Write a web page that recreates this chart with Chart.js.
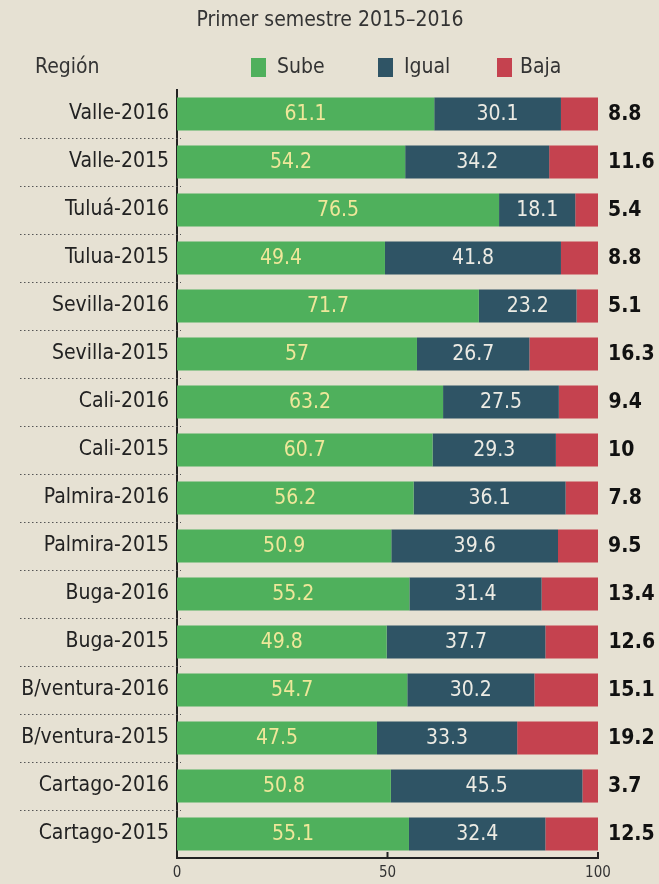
<!DOCTYPE html>
<html>
<head>
<meta charset="utf-8">
<script src="https://cdn.jsdelivr.net/npm/chart.js@4.4.0/dist/chart.umd.min.js"></script>
<style>
  html, body { margin: 0; padding: 0; background: #e6e1d3; }
  #wrap { width: 659px; height: 884px; position: relative; }
</style>
</head>
<body>
<div id="wrap"><canvas id="chart" width="659" height="884"></canvas></div>
<script>
// data, top row first
const regions = ['Valle-2016', 'Valle-2015', 'Tuluá-2016', 'Tulua-2015', 'Sevilla-2016', 'Sevilla-2015',
    'Cali-2016', 'Cali-2015', 'Palmira-2016', 'Palmira-2015', 'Buga-2016', 'Buga-2015',
    'B/ventura-2016', 'B/ventura-2015', 'Cartago-2016', 'Cartago-2015'];
const sube = [61.1, 54.2, 76.5, 49.4, 71.7, 57, 63.2, 60.7, 56.2, 50.9, 55.2, 49.8, 54.7, 47.5, 50.8, 55.1];
const igual = [30.1, 34.2, 18.1, 41.8, 23.2, 26.7, 27.5, 29.3, 36.1, 39.6, 31.4, 37.7, 30.2, 33.3, 45.5, 32.4];
const baja = [8.8, 11.6, 5.4, 8.8, 5.1, 16.3, 9.4, 10, 7.8, 9.5, 13.4, 12.6, 15.1, 19.2, 3.7, 12.5];
const xTicks = [0, 50, 100];

const FONT = "'Liberation Sans Narrow', 'DejaVu Sans Condensed', sans-serif";
const colors = { sube: '#4fb05c', igual: '#2f5465', baja: '#c5424f', ink: '#2a2a2a' };

// title, legend, separators, value labels
const decorPlugin = {
    id: 'decor',
    beforeDraw(chart) {
        const ctx = chart.ctx;
        ctx.save();
        ctx.fillStyle = '#e6e1d3';
        ctx.fillRect(0, 0, chart.width, chart.height);
        ctx.restore();
    },
    afterDraw(chart) {
        const ctx = chart.ctx;
        const area = chart.chartArea;
        const yScale = chart.scales.y;
        const xScale = chart.scales.x;
        ctx.save();

        // title
        ctx.fillStyle = '#333';
        ctx.font = `21px ${FONT}`;
        ctx.textAlign = 'center';
        ctx.textBaseline = 'middle';
        ctx.fillText('Primer semestre 2015–2016', 330, 21);

        // header + legend
        ctx.textAlign = 'left';
        ctx.font = `21px ${FONT}`;
        ctx.fillText('Región', 35, 68);
        const legend = [['Sube', colors.sube, 251, 277], ['Igual', colors.igual, 378, 404], ['Baja', colors.baja, 497, 520]];
        legend.forEach(([txt, col, bx, tx]) => {
            ctx.fillStyle = col;
            ctx.fillRect(bx, 58, 15, 19);
            ctx.fillStyle = '#333';
            ctx.fillText(txt, tx, 68);
        });

        // dotted separators between rows
        ctx.strokeStyle = '#555';
        ctx.lineWidth = 1;
        ctx.setLineDash([1.5, 2.5]);
        for (let i = 0; i < regions.length - 1; i++) {
            const y = Math.round((yScale.getPixelForValue(i) + yScale.getPixelForValue(i + 1)) / 2) + 0.5;
            ctx.beginPath();
            ctx.moveTo(20, y);
            ctx.lineTo(area.left + 4, y);
            ctx.stroke();
        }
        ctx.setLineDash([]);

        // small tick marks on the x axis
        ctx.strokeStyle = '#222';
        ctx.lineWidth = 2;
        xTicks.forEach(v => {
            const x = xScale.getPixelForValue(v);
            ctx.beginPath();
            ctx.moveTo(x, area.bottom);
            ctx.lineTo(x, area.bottom - 6);
            ctx.stroke();
        });

        // value labels
        ctx.textBaseline = 'middle';
        const subeMeta = chart.getDatasetMeta(0);
        const igualMeta = chart.getDatasetMeta(1);
        const bajaMeta = chart.getDatasetMeta(2);
        ctx.font = `21px ${FONT}`;
        ctx.textAlign = 'center';
        subeMeta.data.forEach((bar, i) => {
            ctx.fillStyle = '#efe79a';
            ctx.fillText(String(sube[i]), (bar.base + bar.x) / 2, bar.y + 1);
        });
        igualMeta.data.forEach((bar, i) => {
            ctx.fillStyle = '#ecebe4';
            ctx.fillText(String(igual[i]), (bar.base + bar.x) / 2, bar.y + 1);
        });
        ctx.font = `bold 21px ${FONT}`;
        ctx.textAlign = 'left';
        ctx.fillStyle = '#111';
        bajaMeta.data.forEach((bar, i) => {
            ctx.fillText(String(baja[i]), bar.x + 10, bar.y + 1);
        });
        ctx.restore();
    }
};

new Chart(document.getElementById('chart').getContext('2d'), {
    type: 'bar',
    data: {
        labels: regions,
        datasets: [
            { label: 'Sube', data: sube, backgroundColor: colors.sube },
            { label: 'Igual', data: igual, backgroundColor: colors.igual },
            { label: 'Baja', data: baja, backgroundColor: colors.baja }
        ]
    },
    options: {
        indexAxis: 'y',
        responsive: false,
        animation: false,
        barPercentage: 0.69,
        categoryPercentage: 1,
        layout: { padding: { top: 90, right: 61, left: 0, bottom: 0 } },
        plugins: {
            legend: { display: false },
            title: { display: false },
            tooltip: { enabled: false }
        },
        scales: {
            x: {
                stacked: true,
                min: 0,
                max: 100,
                afterBuildTicks: scale => { scale.ticks = xTicks.map(v => ({ value: v })); },
                afterFit: scale => { scale.height = 26; },
                grid: { display: false, drawTicks: false },
                border: { display: true, color: '#222', width: 2 },
                ticks: { color: '#333', font: { family: FONT, size: 15 }, padding: 6 }
            },
            y: {
                stacked: true,
                afterFit: scale => { scale.width = 177; },
                grid: { display: false, drawTicks: false },
                border: { display: true, color: '#222', width: 2 },
                ticks: { color: '#222', font: { family: FONT, size: 21 }, padding: 8 }
            }
        }
    },
    plugins: [decorPlugin]
});
</script>
</body>
</html>
